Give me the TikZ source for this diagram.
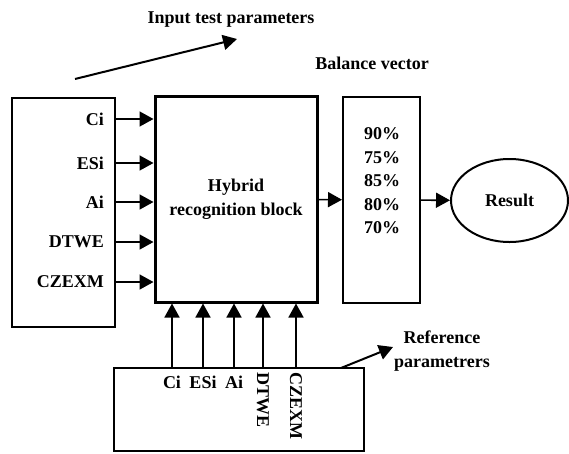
\documentclass[tikz,border=0pt]{standalone}
\usepackage{fontspec}
\setmainfont{Liberation Serif}
\usetikzlibrary{arrows.meta, shapes.geometric}

\begin{document}
\begin{tikzpicture}[x=1pt, y=-1pt,
    font=\fontsize{18}{23.5}\selectfont\bfseries,
    box/.style={draw, line width=1.5pt, inner sep=0pt},
    arr/.style={line width=1.6pt, -{Triangle[length=14pt,width=15pt]}},
    lbl/.style={anchor=east, inner sep=0pt}]
    \useasboundingbox (0,0) rectangle (569,453);
    % blocks
    \node[box, minimum width=103pt, minimum height=229pt] (params) at (63.5,212.5) {};
    \node[box, line width=3pt, minimum width=162pt, minimum height=206pt, align=center]
      (hybrid) at (236,199) {Hybrid\\recognition block};
    \node[box, line width=2pt, minimum width=77pt, minimum height=206pt] (balance) at (381.5,200) {};
    \node[align=center] (weights) at (382,181) {90\%\\75\%\\85\%\\80\%\\70\%};
    \node[draw, ellipse, line width=2pt, inner sep=0pt, minimum width=117pt, minimum height=83pt]
      (result) at (509.5,200.5) {Result};
    \node[box, minimum width=250pt, minimum height=83pt] (refs) at (239,409.5) {};
    % input test parameters
    \node[lbl] (ci)  at (104,119) {Ci};
    \node[lbl] (esi) at (104,163) {ESi};
    \node[lbl] (ai)  at (104,202) {Ai};
    \node[lbl] (dtw) at (104,242) {DTWE};
    \node[lbl] (cze) at (104,282) {CZEXM};
    \draw[arr] (params.east |- ci)  -- (hybrid.west |- ci);
    \draw[arr] (params.east |- esi) -- (hybrid.west |- esi);
    \draw[arr] (params.east |- ai)  -- (hybrid.west |- ai);
    \draw[arr] (params.east |- dtw) -- (hybrid.west |- dtw);
    \draw[arr] (params.east |- cze) -- (hybrid.west |- cze);
    % reference parameters
    \node[anchor=base, inner sep=0pt] (rci)  at (172,388) {Ci};
    \node[anchor=base, inner sep=0pt] (resi) at (203,388) {ESi};
    \node[anchor=base, inner sep=0pt] (rai)  at (234,388) {Ai};
    \node[rotate=-90, anchor=west, inner sep=0pt] (rdtw) at (263,372) {DTWE};
    \node[rotate=-90, anchor=west, inner sep=0pt] (rcze) at (296,372) {CZEXM};
    \draw[arr] (refs.north -| rci)  -- (hybrid.south -| rci);
    \draw[arr] (refs.north -| resi) -- (hybrid.south -| resi);
    \draw[arr] (refs.north -| rai)  -- (hybrid.south -| rai);
    \draw[arr] (refs.north -| rdtw) -- (hybrid.south -| rdtw);
    \draw[arr] (refs.north -| rcze) -- (hybrid.south -| rcze);
    % outputs
    \draw[arr] (hybrid) -- (balance);
    \draw[arr] (balance) -- (result);
    % captions
    \coordinate (inA) at (75,79);
    \coordinate (inB) at (237,39);
    \draw[arr, line width=2pt] (inA) -- (inB);
    \node (intext) at (231,20) {Input test parameters};
    \node (bvtext) at (372,63) {Balance vector};
    \coordinate (refA) at (341,368);
    \coordinate (refB) at (393,347);
    \draw[arr, line width=2pt] (refA) -- (refB);
    \node[align=center] (reftext) at (442,351) {Reference\\parametrers};
\end{tikzpicture}
\end{document}
